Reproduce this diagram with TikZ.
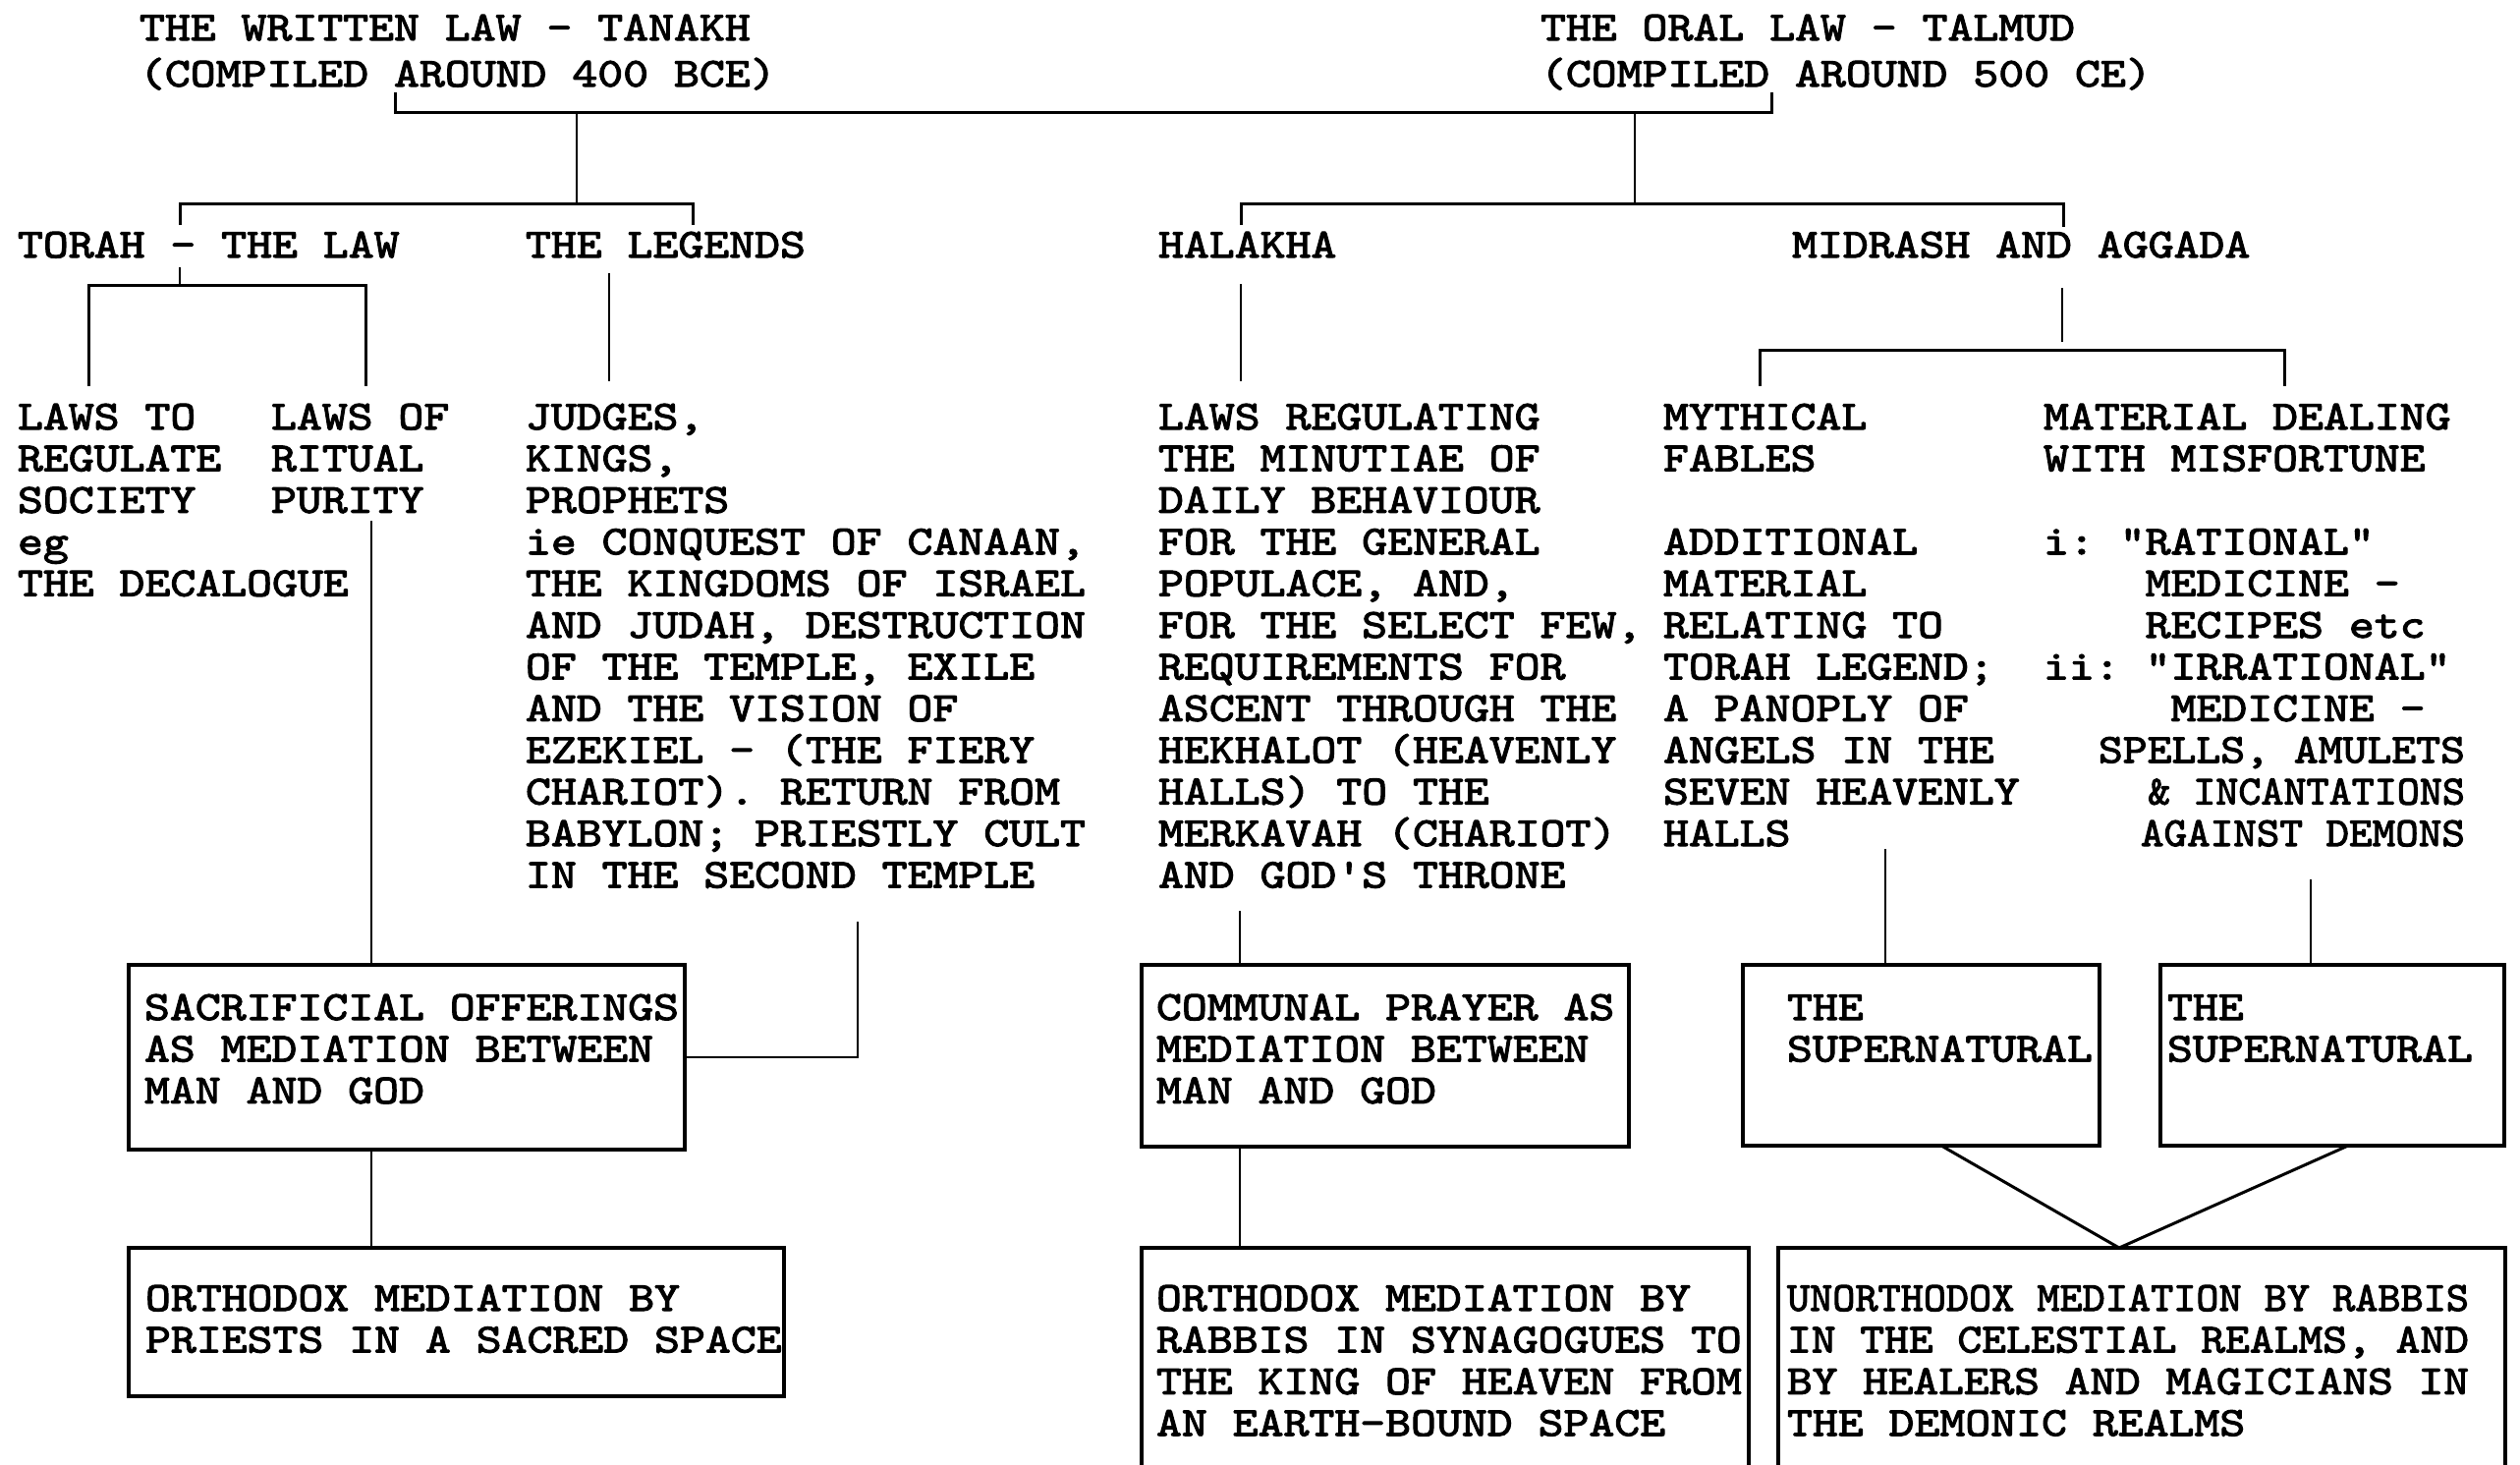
\documentclass[tikz,border=0pt]{standalone}
\usepackage{fontspec}
\usepackage{graphicx}
\setmonofont[FakeBold=2.6,FakeStretch=1.175]{lmmono10-regular.otf}
\usetikzlibrary{fit}
\newcommand\blk[2][21.2pt]{\vtop{\baselineskip=#1\lineskiplimit=-100pt\lineskip=0pt\halign{##\hfil\cr#2\crcr}}}
\newcommand\blkr[2][21.2pt]{\vtop{\baselineskip=#1\lineskiplimit=-100pt\lineskip=0pt\halign{\hfil##\cr#2\crcr}}}
\newcommand\ind[1]{\hphantom{#1}}
\tikzset{
  tx/.style={anchor=base west, inner sep=0pt, outer sep=0pt, font=\ttfamily\fontsize{21pt}{21.2pt}\selectfont},
  txr/.style={tx, anchor=base east},
  bx/.style={draw, line width=1.6pt, inner sep=0pt, outer sep=0pt},
  br/.style={line width=1.5pt},
  ln/.style={line width=1.1pt},
}
\begin{document}
\begin{tikzpicture}[x=0.5pt,y=-0.5pt]
\clip (0,0) rectangle (2565,1490);
\fill[white] (0,0) rectangle (2565,1490);

% ---- titles
\node[tx] (tL) at (142,41) {\blk[23.5pt]{THE WRITTEN LAW - TANAKH\cr (COMPILED AROUND 400 BCE)}};
\node[tx] (tR) at (1568,41) {\blk[23.5pt]{THE ORAL LAW - TALMUD\cr (COMPILED AROUND 500 CE)}};

% ---- level 2
\node[tx] (torah) at (18,262) {TORAH - THE LAW};
\node[tx] (legends) at (535,262) {THE LEGENDS};
\node[tx] (halakha) at (1179,262) {HALAKHA};
\node[tx] (midrash) at (1824,262) {MIDRASH AND AGGADA};

% ---- level 3 texts
\node[tx] (society) at (18,437) {\blk{LAWS TO\cr REGULATE\cr SOCIETY\cr eg\cr THE DECALOGUE}};
\node[tx] (purity) at (276,437) {\blk{LAWS OF\cr RITUAL\cr PURITY}};
\node[tx] (judges) at (535,437) {\blk{JUDGES,\cr KINGS,\cr PROPHETS\cr ie CONQUEST OF CANAAN,\cr THE KINGDOMS OF ISRAEL\cr AND JUDAH, DESTRUCTION\cr OF THE TEMPLE, EXILE\cr AND THE VISION OF\cr EZEKIEL - (THE FIERY\cr CHARIOT). RETURN FROM\cr BABYLON; PRIESTLY CULT\cr IN THE SECOND TEMPLE}};
\node[tx] (laws) at (1179,437) {\blk{LAWS REGULATING\cr THE MINUTIAE OF\cr DAILY BEHAVIOUR\cr FOR THE GENERAL\cr POPULACE, AND,\cr FOR THE SELECT FEW,\cr REQUIREMENTS FOR\cr ASCENT THROUGH THE\cr HEKHALOT (HEAVENLY\cr HALLS) TO THE\cr MERKAVAH (CHARIOT)\cr AND GOD'S THRONE}};
\node[tx] (fables) at (1693,437) {\blk{MYTHICAL\cr FABLES\cr \cr ADDITIONAL\cr MATERIAL\cr RELATING TO\cr TORAH LEGEND;\cr A PANOPLY OF\cr ANGELS IN THE\cr SEVEN HEAVENLY\cr HALLS}};
\node[tx] (misf) at (2080,437) {\blk{MATERIAL DEALING\cr WITH MISFORTUNE\cr \cr i: "RATIONAL"\cr \ind{i: "}MEDICINE -\cr \ind{i: "}RECIPES etc\cr ii: "IRRATIONAL"\cr \ind{ii: "}MEDICINE -}};
\node[txr] (spells) at (2509,776.2) {\blkr{\scalebox{0.96}[1]{SPELLS, AMULETS}\cr \scalebox{0.89}[1]{\& INCANTATIONS}\cr \scalebox{0.91}[1]{AGAINST DEMONS}}};

% ---- boxes
\node[bx, fit={(131,982)(697,1170)}] (boxA) {};
\node[bx, fit={(131,1270)(798,1421)}] (boxB) {};
\node[bx, fit={(1162,982)(1658,1167)}] (boxC) {};
\node[bx, fit={(1162,1270)(1780,1560)}] (boxD) {};
\node[bx, fit={(1774,982)(2137,1166)}] (boxE) {};
\node[bx, fit={(2199,982)(2549,1166)}] (boxF) {};
\node[bx, fit={(1810,1270)(2550,1560)}] (boxG) {};

\node[tx] (tA) at (147,1038) {\blk{SACRIFICIAL OFFERINGS\cr AS MEDIATION BETWEEN\cr MAN AND GOD}};
\node[tx] (tB) at (148,1334) {\blk{ORTHODOX MEDIATION BY\cr PRIESTS IN A SACRED SPACE}};
\node[tx] (tC) at (1177,1038) {\blk{COMMUNAL PRAYER AS\cr MEDIATION BETWEEN\cr MAN AND GOD}};
\node[tx] (tD) at (1177,1334) {\blk{ORTHODOX MEDIATION BY\cr RABBIS IN SYNAGOGUES TO\cr THE KING OF HEAVEN FROM\cr AN EARTH-BOUND SPACE}};
\node[tx] (tE) at (1819,1038) {\blk{THE\cr SUPERNATURAL}};
\node[tx] (tF) at (2206,1038) {\blk{THE\cr SUPERNATURAL}};
\node[tx] (tG) at (1819,1334) {\blk{\resizebox{347pt}{\height}{UNORTHODOX MEDIATION BY RABBIS}\cr \resizebox{347pt}{\height}{IN THE CELESTIAL REALMS, AND}\cr \resizebox{347pt}{\height}{BY HEALERS AND MAGICIANS IN}\cr THE DEMONIC REALMS}};

% ---- connector points
\coordinate (a1) at (402,94);
\coordinate (a2) at (1803,94);
\coordinate (b1) at (587,114);
\coordinate (b2) at (587,207);
\coordinate (c1) at (1664,114);
\coordinate (c2) at (1664,207);
\coordinate (d1) at (183,229);
\coordinate (d2) at (705,229);
\coordinate (e1) at (1263,229);
\coordinate (e2) at (2100,231);
\coordinate (f0) at (183,272);
\coordinate (fh) at (183,290);
\coordinate (f1) at (90,393);
\coordinate (f2) at (372,393);
\coordinate (g1) at (620,278);
\coordinate (g2) at (620,388);
\coordinate (h1) at (1263,289);
\coordinate (h2) at (1263,388);
\coordinate (m1) at (2099,293);
\coordinate (m2) at (2099,348);
\coordinate (mh) at (2099,356);
\coordinate (m3) at (1791,393);
\coordinate (m4) at (2325,393);
\coordinate (p1) at (378,530);
\coordinate (q1) at (873,938);
\coordinate (r1) at (1262,927);
\coordinate (s1) at (1919,864);
\coordinate (u1) at (2352,895);
\coordinate (vE) at (1976,0);
\coordinate (vX) at (2157,0);
\coordinate (vF) at (2390,0);

% ---- connectors
\draw[br] (a1) -- ++(0,20) -| (a2);
\draw[ln] (b1) -- (b2);
\draw[ln] (c1) -- (c2);
\draw[br] (d1) -- (d1 |- b2) -| (d2);
\draw[br] (e1) -- (e1 |- b2) -| (e2);
\draw[ln] (f0) -- (fh);
\draw[br] (f1) |- (fh) -| (f2);
\draw[ln] (g1) -- (g2);
\draw[ln] (h1) -- (h2);
\draw[ln] (m1) -- (m2);
\draw[br] (m3) |- (mh) -| (m4);
\draw[ln] (p1) -- (boxA.north -| p1);
\draw[ln] (q1) |- (boxA.east);
\draw[ln] (boxA.south -| p1) -- (boxB.north -| p1);
\draw[ln] (r1) -- (boxC.north -| r1);
\draw[ln] (boxC.south -| r1) -- (boxD.north -| r1);
\draw[ln] (s1) -- (boxE.north -| s1);
\draw[ln] (u1) -- (boxF.north -| u1);
\draw[br] (boxE.south -| vE) -- (boxG.north -| vX) -- (boxF.south -| vF);
\end{tikzpicture}
\end{document}
